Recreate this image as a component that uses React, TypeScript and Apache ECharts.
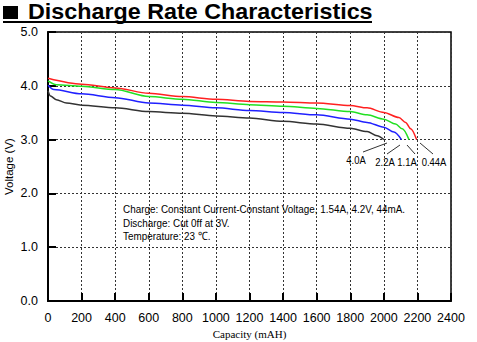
import React, { useEffect, useRef } from "react";
import * as echarts from "echarts";

const capRed = [0, 200, 400, 600, 800, 1000, 1200, 1400, 1600, 1800, 1900, 2000, 2090, 2130, 2160, 2195];
const voltRed = [4.14, 4.03, 3.96, 3.86, 3.80, 3.75, 3.71, 3.70, 3.68, 3.635, 3.59, 3.505, 3.41, 3.32, 3.20, 3.0];

const capGreen = [0, 50, 200, 400, 600, 800, 1000, 1200, 1400, 1600, 1800, 1900, 2000, 2070, 2110, 2150];
const voltGreen = [4.09, 4.02, 3.99, 3.93, 3.80, 3.75, 3.69, 3.65, 3.62, 3.58, 3.52, 3.46, 3.38, 3.29, 3.20, 3.0];

const capBlue = [0, 35, 200, 400, 600, 800, 1000, 1200, 1400, 1600, 1800, 1900, 2000, 2060, 2105];
const voltBlue = [4.01, 3.93, 3.85, 3.78, 3.68, 3.64, 3.59, 3.54, 3.505, 3.46, 3.38, 3.32, 3.23, 3.14, 3.0];

const capBlack = [0, 15, 50, 110, 200, 400, 600, 800, 1000, 1200, 1400, 1600, 1800, 1900, 1960, 2000];
const voltBlack = [3.91, 3.81, 3.74, 3.68, 3.64, 3.59, 3.52, 3.49, 3.44, 3.40, 3.34, 3.29, 3.21, 3.15, 3.07, 3.0];

const rateLabels = ["4.0A", "2.2A", "1.1A", "0.44A"];
const noteLines = [
  "Charge: Constant Current-Constant Voltage, 1.54A, 4.2V, 44mA.",
  "Discharge: Cut 0ff at 3V.",
  "Temperature: 23 \u2103.",
];
const titleText = "Discharge Rate Characteristics";

const zip = (xs: number[], ys: number[]) => xs.map((x, i) => [x, ys[i]]);

export default function App() {
  const ref = useRef<HTMLDivElement>(null);
  useEffect(() => {
    const chart = echarts.init(ref.current!, null, { renderer: "svg" });
    const sans = "'Liberation Sans', Arial, sans-serif";
    const mkSeries = (name: string, color: string, xs: number[], ys: number[]) => ({
      name,
      type: "line",
      data: zip(xs, ys),
      showSymbol: false,
      smooth: 0.3,
      smoothMonotone: "x",
      lineStyle: { color, width: 1.5 },
      z: 3,
    });
    const labelPos = [
      [356, 160],
      [385, 162],
      [407, 162],
      [434, 162],
    ];
    const leaders = [
      [363, 152, 387, 143],
      [387, 154, 400, 145],
      [407, 145, 415, 154],
      [420, 143, 433, 154],
    ];
    chart.setOption({
      animation: false,
      backgroundColor: "#ffffff",
      grid: {
        left: 48,
        right: 26,
        top: 32,
        bottom: 41,
        outerBoundsMode: "none",
        containLabel: false,
        show: true,
        borderColor: "#000",
        borderWidth: 1.5,
        backgroundColor: "transparent",
      },
      xAxis: {
        type: "value",
        min: 0,
        max: 2400,
        interval: 200,
        name: "Capacity (mAH)",
        nameLocation: "middle",
        nameGap: 27,
        nameMoveOverlap: false,
        nameTextStyle: { fontFamily: "'Liberation Serif', serif", fontSize: 11, color: "#000" },
        axisLine: { lineStyle: { color: "#000", width: 2 } },
        axisTick: { inside: true, length: 8, lineStyle: { color: "#000", width: 2 } },
        axisLabel: {
          color: "#000",
          fontFamily: sans,
          fontSize: 12.5,
          margin: 10,
          formatter: (v: number) => String(v),
        },
        splitLine: { show: true, lineStyle: { color: "#333", type: [2, 2], width: 1 } },
      },
      yAxis: {
        type: "value",
        min: 0,
        max: 5,
        interval: 1,
        name: "Voltage (V)",
        nameLocation: "middle",
        nameGap: 33,
        nameMoveOverlap: false,
        nameRotate: 90,
        nameTextStyle: { fontFamily: sans, fontSize: 11.5, color: "#000" },
        axisLine: { show: true, lineStyle: { color: "#000", width: 2 } },
        axisTick: { inside: true, length: 8, lineStyle: { color: "#000", width: 2 } },
        axisLabel: {
          color: "#000",
          fontFamily: sans,
          fontSize: 12.5,
          margin: 10,
          formatter: (v: number) => v.toFixed(1),
        },
        splitLine: { show: true, lineStyle: { color: "#333", type: [2, 2], width: 1 } },
      },
      series: [
        mkSeries("0.44A", "#ff2020", capRed, voltRed),
        mkSeries("1.1A", "#22e022", capGreen, voltGreen),
        mkSeries("2.2A", "#2020ff", capBlue, voltBlue),
        mkSeries("4.0A", "#333333", capBlack, voltBlack),
      ],
      graphic: [
        { type: "rect", shape: { x: 3, y: 6, width: 15, height: 13 }, style: { fill: "#000" } },
        {
          type: "text",
          x: 28,
          y: 11.5,
          scaleX: 1.06,
          style: {
            text: titleText,
            fill: "#000",
            font: `bold 22px ${sans}`,
            lineHeight: 22,
            verticalAlign: "middle",
          },
        },
        { type: "rect", shape: { x: 3, y: 21, width: 369, height: 2 }, style: { fill: "#000" } },
        ...noteLines.map((t, i) => ({
          type: "text",
          x: 123,
          y: 209 + i * 13.5,
          scaleX: 0.86,
          style: {
            text: t,
            fill: "#000",
            font: `11.5px ${sans}`,
            verticalAlign: "middle",
          },
          z: 10,
        })),
        ...rateLabels.map((t, i) => ({
          type: "text",
          x: labelPos[i][0],
          y: labelPos[i][1],
          scaleX: 0.86,
          style: {
            text: t,
            fill: "#000",
            font: `11px ${sans}`,
            align: "center",
            verticalAlign: "middle",
          },
          z: 10,
        })),
        ...leaders.map((l) => ({
          type: "line",
          shape: { x1: l[0], y1: l[1], x2: l[2], y2: l[3] },
          style: { stroke: "#333", lineWidth: 1 },
          z: 10,
        })),
      ],
    });
    return () => chart.dispose();
  }, []);
  return <div ref={ref} style={{ width: 477, height: 342, position: "absolute", left: 0, top: 0 }} />;
}
